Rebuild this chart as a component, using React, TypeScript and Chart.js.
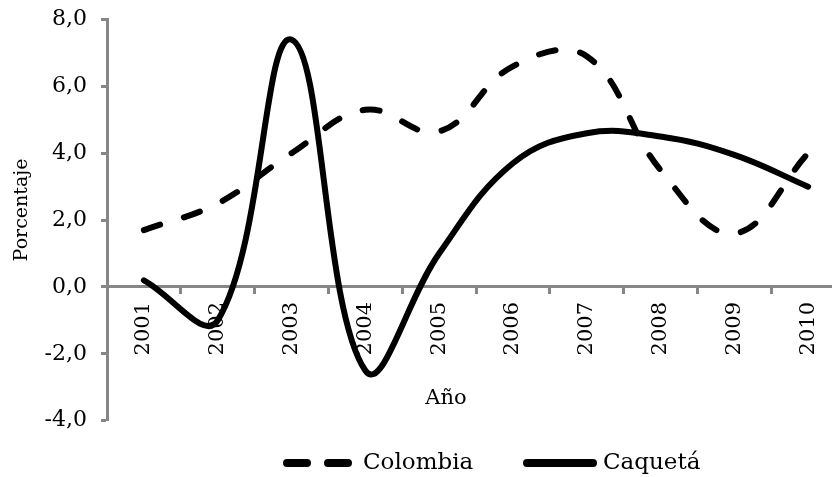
import { useEffect, useRef } from "react";
import { Chart, registerables } from "chart.js";

Chart.register(...registerables);

const years = ["2001", "2002", "2003", "2004", "2005", "2006", "2007", "2008", "2009", "2010"];
const colombia = [1.7, 2.5, 4.0, 5.3, 4.65, 6.6, 6.9, 3.5, 1.6, 4.0];
const caqueta = [0.2, -1.0, 7.4, -2.5, 1.0, 3.7, 4.6, 4.5, 3.95, 3.0];
const yTicks = [-4, -2, 0, 2, 4, 6, 8];
const seriesNames = ["Colombia", "Caquetá"];
const xTitle = "Año";
const yTitle = "Porcentaje";

const FONT = "'DejaVu Serif', serif";
const AXIS = "#868686";

const overlay = {
  id: "overlay",
  afterDraw(chart: any) {
    const ctx = chart.ctx as CanvasRenderingContext2D;
    ctx.save();
    ctx.fillStyle = "#000";
    // y title
    ctx.save();
    ctx.font = `19px ${FONT}`;
    ctx.textAlign = "center";
    ctx.textBaseline = "middle";
    ctx.translate(14, 202);
    ctx.rotate(-Math.PI / 2);
    ctx.fillText(yTitle, 0, 0);
    ctx.restore();
    // x title
    ctx.font = `21px ${FONT}`;
    ctx.textAlign = "center";
    ctx.textBaseline = "middle";
    ctx.fillText(xTitle, 438, 391);
    // legend
    const items = [
      { x0: 279, x1: 340, tx: 355, dash: [20, 21] },
      { x0: 519, x1: 585, tx: 595, dash: [] as number[] },
    ];
    const ly = 455;
    ctx.font = `23px ${FONT}`;
    ctx.textAlign = "left";
    items.forEach((it, i) => {
      const ds = chart.data.datasets[i];
      ctx.save();
      ctx.strokeStyle = ds.borderColor;
      ctx.lineWidth = 8;
      ctx.lineCap = "round";
      ctx.setLineDash(it.dash);
      ctx.beginPath();
      ctx.moveTo(it.x0, ly);
      ctx.lineTo(it.x1, ly);
      ctx.stroke();
      ctx.restore();
      ctx.fillText(seriesNames[i], it.tx, ly);
    });
    ctx.restore();
  },
};

export default function App() {
  const ref = useRef<HTMLCanvasElement | null>(null);
  useEffect(() => {
    document.body.style.overflow = "hidden";
    const chart = new Chart(ref.current as HTMLCanvasElement, {
      type: "line",
      data: {
        labels: years,
        datasets: [
          {
            label: seriesNames[0],
            data: colombia,
            borderColor: "#000",
            backgroundColor: "#000",
            borderWidth: 6,
            borderDash: [17, 25],
            borderCapStyle: "round",
            pointRadius: 0,
            tension: 0.4,
            fill: false,
          },
          {
            label: seriesNames[1],
            data: caqueta,
            borderColor: "#000",
            backgroundColor: "#000",
            borderWidth: 6,
            borderCapStyle: "round",
            pointRadius: 0,
            tension: 0.4,
            fill: false,
          },
        ],
      },
      options: {
        animation: false,
        responsive: true,
        maintainAspectRatio: false,
        layout: { padding: { top: 11.5, right: 3, bottom: 56.3, left: 0 } },
        plugins: { legend: { display: false }, tooltip: { enabled: false } },
        scales: {
          x: {
            type: "category",
            position: { y: 0 } as any,
            offset: true,
            grid: {
              display: true,
              drawOnChartArea: false,
              drawTicks: true,
              tickLength: 6,
              tickWidth: 3,
              tickColor: AXIS,
              offset: true,
            },
            border: { display: true, color: AXIS, width: 3 },
            ticks: {
              font: { family: FONT, size: 21 },
              color: "#000",
              minRotation: 90,
              maxRotation: 90,
              padding: 9,
              autoSkip: false,
            },
            afterFit: (s: any) => {
              s.paddingTop = 0;
              s.paddingBottom = 0;
            },
          },
          y: {
            type: "linear",
            min: -4,
            max: 8,
            afterBuildTicks: (s: any) => {
              s.ticks = yTicks.map((v) => ({ value: v }));
            },
            afterFit: (s: any) => {
              s.width = 99;
              s.paddingTop = 0;
              s.paddingBottom = 0;
            },
            grid: {
              drawOnChartArea: false,
              drawTicks: true,
              tickLength: 6,
              tickWidth: 3,
              tickColor: AXIS,
            },
            border: { display: true, color: AXIS, width: 3 },
            ticks: {
              font: { family: FONT, size: 22, lineHeight: 1 },
              color: "#000",
              padding: 14,
              callback: (v: any) => Number(v).toFixed(1).replace(".", ","),
            },
          },
        },
      },
      plugins: [overlay],
    });
    return () => chart.destroy();
  }, []);
  return (
    <div style={{ width: 832, height: 469, overflow: "hidden" }}>
      <div style={{ width: 840, height: 469, position: "relative" }}>
        <canvas ref={ref} />
      </div>
    </div>
  );
}
